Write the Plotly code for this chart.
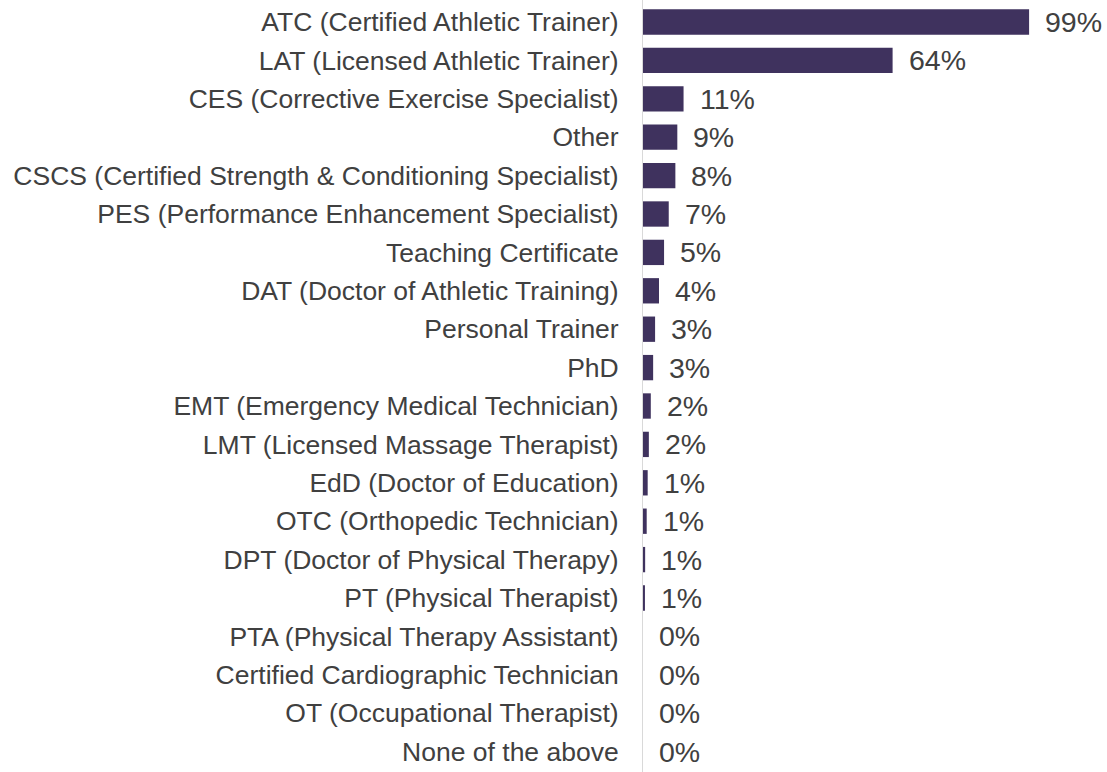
import plotly.graph_objects as go

categories = [
    "ATC (Certified Athletic Trainer)",
    "LAT (Licensed Athletic Trainer)",
    "CES (Corrective Exercise Specialist)",
    "Other",
    "CSCS (Certified Strength & Conditioning Specialist)",
    "PES (Performance Enhancement Specialist)",
    "Teaching Certificate",
    "DAT (Doctor of Athletic Training)",
    "Personal Trainer",
    "PhD",
    "EMT (Emergency Medical Technician)",
    "LMT (Licensed Massage Therapist)",
    "EdD (Doctor of Education)",
    "OTC (Orthopedic Technician)",
    "DPT (Doctor of Physical Therapy)",
    "PT (Physical Therapist)",
    "PTA (Physical Therapy Assistant)",
    "Certified Cardiographic Technician",
    "OT (Occupational Therapist)",
    "None of the above",
]
values = [99, 64, 10.4, 8.8, 8.3, 6.6, 5.4, 4.1, 3.1, 2.6, 2.0, 1.5, 1.2, 0.95, 0.55, 0.5, 0, 0, 0, 0]
labels = ["99%", "64%", "11%", "9%", "8%", "7%", "5%", "4%", "3%", "3%",
          "2%", "2%", "1%", "1%", "1%", "1%", "0%", "0%", "0%", "0%"]

bar_color = "#3F325E"
text_color = "#404040"
font_family = "Liberation Sans, Arial, sans-serif"

W, H = 1107, 772
L = 643
row_px = 38.4
first_center = 22.0
y_top = -first_center / row_px
y_bottom = y_top + H / row_px

fig = go.Figure()
fig.add_trace(go.Bar(
    x=values, y=categories, orientation="h",
    marker=dict(color=bar_color, line=dict(width=0)),
    hoverinfo="skip",
))

for v, c, t in zip(values, categories, labels):
    fig.add_annotation(
        x=v, y=c, text=t, xref="x", yref="y",
        xanchor="left", yanchor="middle", xshift=14, yshift=0,
        showarrow=False,
        font=dict(family=font_family, size=28.5, color=text_color),
    )

fig.update_layout(
    width=W, height=H,
    margin=dict(l=L, r=0, t=0, b=0, pad=0, autoexpand=False),
    paper_bgcolor="white", plot_bgcolor="white",
    bargap=0.34,
    showlegend=False,
    hovermode=False,
    font=dict(family=font_family, color=text_color),
)
fig.update_xaxes(
    range=[0, (W - L) / 3.9], showgrid=False, zeroline=False,
    showticklabels=False, showline=False, fixedrange=True,
    automargin=False,
)
fig.update_yaxes(
    range=[y_bottom, y_top], showgrid=False, zeroline=False,
    showline=True, linecolor="#D9D9D9", linewidth=1,
    ticks="", ticklabelstandoff=18, automargin=False, fixedrange=True,
    tickfont=dict(family=font_family, size=26.5, color=text_color),
)

fig.write_html(
    "out.html",
    config={"displayModeBar": False, "staticPlot": True},
    post_script="document.body.style.margin='0';document.body.style.overflow='hidden';",
)
